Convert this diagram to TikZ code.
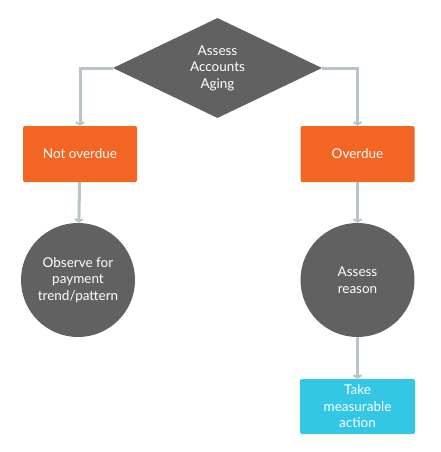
\documentclass[tikz,border=0pt]{standalone}
\usepackage{fontspec}
\setmainfont{Lato}
\usetikzlibrary{arrows.meta, shapes.geometric, positioning}
\definecolor{slate}{HTML}{616161}
\definecolor{tangerine}{HTML}{F26522}
\definecolor{skyblue}{HTML}{33C6E5}
\definecolor{linkgray}{HTML}{B9C4C8}

\begin{document}
\begin{tikzpicture}[x=1pt, y=-1pt]
                \tikzstyle{decision} = [shape=diamond, fill=slate, text=white, inner sep=0pt, minimum width=209pt, minimum height=100pt, align=center, font=\fontsize{13.5}{16.5}\selectfont];
                \tikzstyle{outcome} = [shape=rectangle, rounded corners=2pt, fill=tangerine, text=white, minimum width=114pt, minimum height=56pt, align=center, font=\fontsize{13.5}{16.5}\selectfont];
                \tikzstyle{stage} = [shape=circle, fill=slate, text=white, minimum size=114pt, inner sep=0pt, align=center, font=\fontsize{13.5}{16.5}\selectfont];
                \tikzstyle{action} = [shape=rectangle, rounded corners=2pt, fill=skyblue, text=white, minimum width=115pt, minimum height=55pt, align=center, font=\fontsize{13.5}{16.5}\selectfont];
                \tikzstyle{link} = [draw=linkgray, line width=3pt, -{Straight Barb[length=2.5pt,width=8pt,line width=2pt]}];

                \useasboundingbox (0,0) rectangle (440,452);

                \node[decision](D) at (217.5,68) {Assess\\Accounts\\Aging};
                \node[outcome](N) at (80,154) {Not overdue};
                \node[outcome](O) at (357.5,154) {Overdue};
                \node[stage](P) at (78,280) {Observe for\\payment\\trend/pattern};
                \node[stage](R) at (357.5,280) {Assess\\reason};
                \node[action](T) at (357.5,406.5) {Take\\measurable\\action};

                \draw[link] (D.west) -| (N.north);
                \draw[link] (D.east) -| (O.north);
                \draw[link] (N) -- (P);
                \draw[link] (O) -- (R);
                \draw[link] (R) -- (T);
            \end{tikzpicture}
\end{document}
